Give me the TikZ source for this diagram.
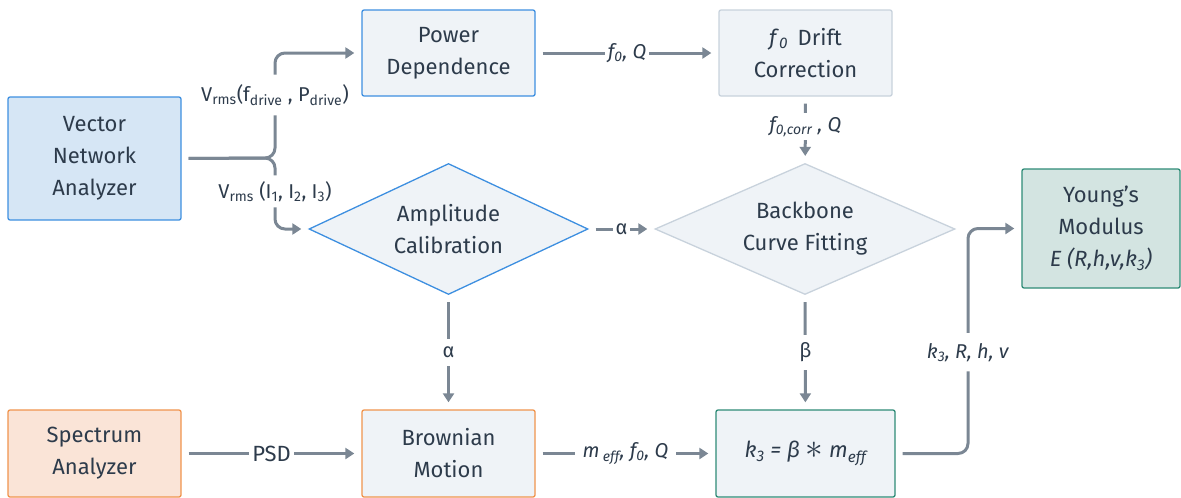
\documentclass[tikz,border=0pt]{standalone}
\usepackage{fontspec}
\setmainfont{Fira Sans}
\usetikzlibrary{shapes.geometric,arrows.meta,calc}
\definecolor{ink}{HTML}{2D3B4B}
\definecolor{wire}{HTML}{7B8794}
\definecolor{paleblue}{HTML}{D6E6F5}
\definecolor{blueline}{HTML}{3D8FE0}
\definecolor{palegray}{HTML}{EFF3F7}
\definecolor{grayline}{HTML}{C8D2DC}
\definecolor{paleorange}{HTML}{FAE4D7}
\definecolor{orangeline}{HTML}{F0944D}
\definecolor{palegreen}{HTML}{D3E4E1}
\definecolor{greenline}{HTML}{2E8B76}
\begin{document}
\begin{tikzpicture}[x=1pt,y=-1pt,
  box/.style={draw, rectangle, rounded corners=2pt, line width=1.3pt, minimum width=173pt, minimum height=86pt, align=center, text=ink, font=\fontsize{22}{32}\selectfont},
  decision/.style={draw, diamond, aspect=2.3, line width=1.3pt, inner sep=0pt, align=center, text=ink, font=\fontsize{22}{32}\selectfont},
  conn/.style={draw=wire, line width=3pt, -{Triangle[length=9pt,width=11pt]}, shorten <=7pt, shorten >=7pt},
  lbl/.style={fill=white, text=ink, inner sep=3pt, font=\fontsize{20}{24}\selectfont}]
\useasboundingbox (0,0) rectangle (1181,498);
% sources
\node[box, fill=paleblue, draw=blueline, minimum height=123pt] (vna) at (94.5,158.5) {Vector\\Network\\Analyzer};
\node[box, fill=paleorange, draw=orangeline, minimum height=87pt] (spec) at (94.5,453.5) {Spectrum\\Analyzer};
% processing
\node[box, fill=palegray, draw=blueline] (power) at (448.5,53) {Power\\Dependence};
\node[box, fill=palegray, draw=grayline] (drift) at (805.5,53) {\textit{f}\textsubscript{\textit{0}}\, Drift\\Correction};
\node[decision, fill=palegray, draw=blueline, minimum width=279pt, minimum height=131pt] (amp) at (448.5,229) {Amplitude\\Calibration};
\node[decision, fill=palegray, draw=grayline, minimum width=300pt, minimum height=131pt] (backbone) at (805,229) {Backbone\\Curve Fitting};
\node[box, fill=palegray, draw=orangeline, minimum height=87pt] (brown) at (448.5,453.5) {Brownian\\Motion};
\node[box, fill=palegray, draw=greenline, minimum width=179pt, minimum height=87pt] (stiff) at (805.5,453.5) {\textit{k\textsubscript{3} = β \raisebox{-1pt}{\scalebox{1.7}{$\ast$}} m\textsubscript{eff}}};
% result
\node[box, fill=palegreen, draw=greenline, minimum width=158pt, minimum height=119pt] (young) at (1101,228.5) {Young's\\Modulus\\\textit{E (R,h,v,k\textsubscript{3})}};
% connectors
\coordinate (split) at (275,158);
\coordinate (riser) at (968,0);
\draw[conn, rounded corners=10pt] (vna.east) -- (split) -- node[lbl, pos=0.6, inner ysep=10pt] {V\textsubscript{rms}(f\textsubscript{drive} , P\textsubscript{drive})} (split |- power.west) -- (power.west);
\draw[conn, rounded corners=10pt] (vna.east) -- (split) -- node[lbl, pos=0.47, inner ysep=6pt] {V\textsubscript{rms} (I\textsubscript{1}, I\textsubscript{2}, I\textsubscript{3})} (split |- amp.west) -- (amp.west);
\draw[conn] (power) -- node[lbl] {\textit{f\textsubscript{0}, Q}} (drift);
\draw[conn] (drift) -- node[lbl, pos=0.45] {\textit{f\textsubscript{0,corr} , Q}} (backbone);
\draw[conn] (amp) -- node[lbl] {α} (backbone);
\draw[conn] (amp) -- node[lbl, inner ysep=8pt] {α} (brown);
\draw[conn] (backbone) -- node[lbl, inner ysep=8pt] {β} (stiff);
\draw[conn] (spec) -- node[lbl, font=\fontsize{22}{24}\selectfont] {PSD} (brown);
\draw[conn] (brown) -- node[lbl, inner xsep=8pt] {\textit{m\,\textsubscript{eff}, f\textsubscript{0}, Q}} (stiff);
\draw[conn, rounded corners=10pt] (stiff.east) -- (stiff.east -| riser) -- node[lbl, pos=0.45, inner ysep=10pt] {\textit{k\textsubscript{3}, R, h, v}} (young.west -| riser) -- (young.west);
\end{tikzpicture}
\end{document}
